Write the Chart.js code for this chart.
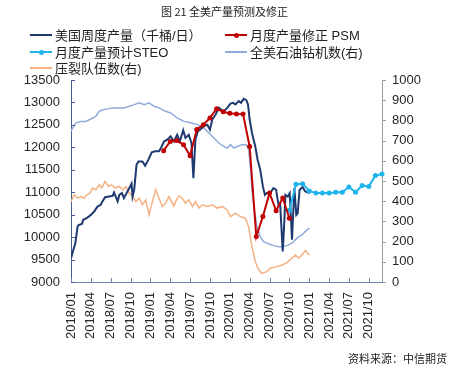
<!DOCTYPE html>
<html><head><meta charset="utf-8">
<script src="https://cdn.jsdelivr.net/npm/chart.js@4.4.1/dist/chart.umd.min.js"></script>
<style>
body{margin:0;background:#fff;}
#wrap{position:relative;width:457px;height:372px;font-family:"Liberation Sans","Noto Sans CJK SC",sans-serif;overflow:hidden;}
canvas{position:absolute;left:0;top:0;}
.t{position:absolute;white-space:nowrap;color:#222;}
.ln{position:absolute;height:2px;width:22px;}
.dot{position:absolute;width:5px;height:5px;border-radius:50%;}
</style></head><body>
<div id="wrap">
<canvas id="c" width="457" height="372"></canvas>
<div class="t" style="left:0;width:449px;top:3px;text-align:center;font-size:11px;font-family:'Noto Sans CJK SC',sans-serif;">图 21 全美产量预测及修正</div>
<div class="t" style="right:10px;top:350px;font-size:11px;font-family:'Noto Sans CJK SC',sans-serif;">资料来源：中信期货</div>
</div>
<script>
// ---- categories / tick labels ----
const tickLabels = ['2018/01','2018/04','2018/07','2018/10','2019/01','2019/04','2019/07','2019/10','2020/01','2020/04','2020/07','2020/10','2021/01','2021/04','2021/07','2021/10'];
const seriesNames = ['美国周度产量（千桶/日）','月度产量修正 PSM','月度产量预计STEO','全美石油钻机数(右)','压裂队伍数(右)'];

// months since 2018/01 for each weekly reading
const prodMonth = [0,0.35,0.65,1.0,1.15,1.65,1.85,2.35,3.0,3.5,4.0,4.5,4.75,5.15,5.75,6.3,6.5,7.05,7.3,7.7,8.0,8.4,8.8,9.15,9.3,9.55,9.9,10.2,10.8,11.2,11.7,12.2,12.7,13.3,13.7,14.05,14.55,15.05,15.55,16.05,16.45,16.95,17.3,17.8,18.2,18.5,18.8,19.15,19.55,20.05,20.6,21.0,21.35,21.85,22.35,22.7,23.1,23.6,24.1,24.5,24.85,25.35,25.7,26.1,26.5,26.75,27.0,27.35,27.85,28.2,28.6,29.0,29.3,29.6,30.1,30.6,31.0,31.35,31.6,32.0,32.25,32.4,32.75,33.05,33.4,33.75,34.05,34.25,34.55,35.0,35.4,36.05];
const prodValue = [9530,9715,9865,10235,10270,10295,10385,10420,10495,10570,10680,10720,10795,10890,10905,10920,10995,10795,10940,10980,10870,10980,11090,11190,10905,11055,11610,11685,11685,11590,11725,11890,11910,11910,12020,12130,12170,12245,12130,12280,12130,12380,12210,12280,12100,11315,12170,12355,12395,12470,12505,12395,12620,12730,12880,12840,12805,12880,12975,12990,12955,13030,12990,13080,13050,12955,12620,12320,12020,11725,11500,11130,10940,10980,10980,11090,11055,10720,10755,9680,10385,10940,10905,10980,9940,11090,10495,10530,11055,11115,11015,10980];

const psmMonth = [14,15,16,17,18,19,20,21,22,23,24,25,26,27,28,29,30,31,32,33];
const psmValue = [11925,12130,12150,12060,11815,12395,12505,12655,12860,12790,12760,12745,12740,12020,10012,10460,10980,10590,10870,10420];

const steoMonth = [33,34,35,36,37,38,39,40,41,42,43,44,45,46,47];
const steoValue = [10600,11180,11190,11030,10980,10980,10980,11000,11000,11115,11000,11150,11130,11370,11405];

const rigMonth = [0,0.75,1.5,2.25,3.0,3.75,4.25,4.8,5.55,6.3,7.3,8.0,8.8,9.55,10.3,11.05,11.8,12.55,13.3,14.3,15.05,16.05,17.05,18.05,19.1,20.05,20.85,21.6,22.35,23.1,23.6,24.1,24.6,25.1,25.85,26.5,26.85,27.1,27.35,27.7,28.1,28.6,29.1,29.85,30.6,31.35,31.85,32.65,33.4,34.15,34.9,35.65,36.05];
const rigValue = [748,788,795,795,807,820,845,853,857,862,862,862,870,878,887,878,887,870,862,845,837,812,795,788,779,763,738,713,688,671,663,680,663,671,680,680,655,572,457,357,274,225,200,189,180,175,175,180,192,217,233,258,267];

const fracMonth = [0,0.5,1.0,1.5,2.0,2.35,2.85,3.25,3.75,4.25,4.65,5.15,5.7,6.15,6.65,7.3,7.8,8.3,8.8,9.3,9.8,10.3,10.8,11.3,11.8,12.3,12.8,13.3,13.8,14.3,14.8,15.55,15.8,16.3,16.8,17.3,17.8,18.35,18.85,19.3,19.85,20.6,21.35,22.1,22.85,23.6,24.1,24.85,25.6,26.35,26.85,27.35,27.85,28.35,28.85,29.6,30.1,31.15,31.9,32.65,33.4,33.9,34.4,34.9,35.4,36.05];
const fracValue = [398,432,415,423,415,432,440,465,457,481,465,498,473,481,465,473,457,473,440,423,398,415,382,407,333,398,457,415,374,390,423,377,398,427,415,390,407,374,398,366,382,374,382,366,374,357,324,341,324,316,274,175,101,60,43,51,68,76,84,96,118,134,118,134,155,134];

// ---- styling ----
const F = '"Liberation Sans","Noto Sans CJK SC",sans-serif';
const colors = ['#1F3A70','#C00000','#1FB4EE','#90AADC','#F4B183'];
const hasDot = [false,true,true,false,false];
const toXY = (xs, ys) => xs.map((x,i)=>({x:x, y:ys[i]}));

// legend (HTML)
const legPos = [[30,35],[225,35],[30,52],[225,52],[30,68]];
const wrap = document.getElementById('wrap');
seriesNames.forEach((n,i)=>{
  const [lx,ly] = legPos[i];
  const l = document.createElement('div'); l.className='ln';
  l.style.left=lx+'px'; l.style.top=(ly-1)+'px'; l.style.background=colors[i]; wrap.appendChild(l);
  if(hasDot[i]){ const d=document.createElement('div'); d.className='dot'; d.style.left=(lx+8.5)+'px'; d.style.top=(ly-2.5)+'px'; d.style.background=colors[i]; wrap.appendChild(d); }
  const t = document.createElement('div'); t.className='t'; t.textContent=n;
  t.style.left=(lx+25)+'px'; t.style.top=(ly-10)+'px'; t.style.fontSize='13px'; t.style.fontFamily=F; t.style.color='#222';
  wrap.appendChild(t);
});

const tickMonths = tickLabels.map((_,i)=>i*3);

const inTicks = {
  id:'inTicks',
  afterDatasetsDraw(chart){
    const {ctx, chartArea:a, scales} = chart;
    ctx.save(); ctx.lineWidth=1;
    ctx.strokeStyle='#6D87B5';
    scales.x.ticks.forEach(t=>{ const p=Math.round(scales.x.getPixelForValue(t.value))+0.5; ctx.beginPath(); ctx.moveTo(p,a.bottom); ctx.lineTo(p,a.bottom-4); ctx.stroke(); });
    ctx.strokeStyle='#44618F';
    scales.y.ticks.forEach(t=>{ const p=Math.round(scales.y.getPixelForValue(t.value))+0.5; ctx.beginPath(); ctx.moveTo(a.left,p); ctx.lineTo(a.left+4,p); ctx.stroke(); });
    ctx.strokeStyle='#9E9E9E';
    scales.y1.ticks.forEach(t=>{ const p=Math.round(scales.y1.getPixelForValue(t.value))+0.5; ctx.beginPath(); ctx.moveTo(a.right,p); ctx.lineTo(a.right+4,p); ctx.stroke(); });
    ctx.restore();
  }
};

new Chart(document.getElementById('c'), {
  type:'line',
  data:{ datasets:[
    {label:seriesNames[1], data:toXY(psmMonth,psmValue), yAxisID:'y', borderColor:colors[1], backgroundColor:colors[1], borderWidth:2, pointRadius:2.5, pointBorderWidth:0, order:0},
    {label:seriesNames[2], data:toXY(steoMonth,steoValue), yAxisID:'y', borderColor:colors[2], backgroundColor:colors[2], borderWidth:2, pointRadius:2.5, pointBorderWidth:0, order:1, clip:6},
    {label:seriesNames[0], data:toXY(prodMonth,prodValue), yAxisID:'y', borderColor:colors[0], borderWidth:2, pointRadius:0, order:2},
    {label:seriesNames[3], data:toXY(rigMonth,rigValue), yAxisID:'y1', borderColor:colors[3], borderWidth:1.5, pointRadius:0, order:3},
    {label:seriesNames[4], data:toXY(fracMonth,fracValue), yAxisID:'y1', borderColor:colors[4], borderWidth:1.5, pointRadius:0, order:4}
  ]},
  options:{
    responsive:false, animation:false, devicePixelRatio:1,
    layout:{padding:{top:80,left:0,right:0,bottom:0}},
    plugins:{legend:{display:false}, title:{display:false}, tooltip:{enabled:false}},
    elements:{line:{tension:0}},
    scales:{
      x:{type:'linear', min:0, max:47, position:'bottom',
        afterBuildTicks(s){ s.ticks = tickMonths.map(v=>({value:v})); },
        afterFit(s){ s.height = 90; },
        grid:{display:false, drawTicks:false, tickLength:0},
        border:{display:true, color:'#6D87B5', width:1},
        ticks:{autoSkip:false, minRotation:90, maxRotation:90, padding:10, color:'#262626', font:{size:13, family:F},
          callback:(v)=>{ const i=tickMonths.indexOf(v); return i>=0 ? tickLabels[i] : ''; }}
      },
      y:{type:'linear', position:'left', min:9000, max:13500,
        afterFit(s){ s.width = 71; },
        grid:{display:false, drawTicks:false, tickLength:0},
        border:{display:true, color:'#44618F', width:1},
        ticks:{stepSize:500, padding:11, color:'#262626', font:{size:13, family:F}, callback:(v)=>String(v)}
      },
      y1:{type:'linear', position:'right', min:0, max:1000,
        afterFit(s){ s.width = 75; },
        grid:{display:false, drawTicks:false, tickLength:0},
        border:{display:true, color:'#9E9E9E', width:1},
        ticks:{stepSize:100, padding:10, color:'#262626', font:{size:13, family:F}, callback:(v)=>String(v)}
      }
    }
  },
  plugins:[inTicks]
});
</script>
</body></html>
